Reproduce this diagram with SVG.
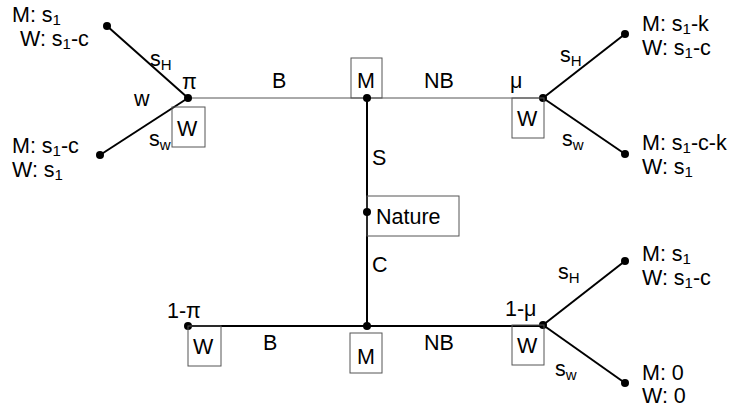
<svg xmlns="http://www.w3.org/2000/svg" width="730" height="408" viewBox="0 0 730 408">
<style>
text{font-family:"Liberation Sans",Arial,sans-serif;font-size:21.5px;fill:#000}
.sub{font-size:15px}
.box{fill:none;stroke:#555;stroke-width:1}
.thick{stroke:#000;stroke-width:2;fill:none}
.thin{stroke:#555;stroke-width:1;fill:none}
.dot{fill:#000}
</style>
<rect width="730" height="408" fill="#fff"/>
<g id="connectors">
<line class="thick" x1="188" y1="98" x2="107" y2="26"/>
<line class="thick" x1="188" y1="98" x2="100" y2="155"/>
<line class="thin" x1="188" y1="98" x2="543" y2="98"/>
<line class="thick" x1="543" y1="98" x2="625" y2="34"/>
<line class="thick" x1="543" y1="98" x2="625" y2="154"/>
<line class="thick" x1="367" y1="98" x2="367" y2="326"/>
<line class="thick" x1="188" y1="326" x2="543" y2="326"/>
<line class="thick" x1="543" y1="325" x2="625" y2="261"/>
<line class="thick" x1="543" y1="325" x2="625" y2="383"/>
<text x="150" y="66">s<tspan class="sub" dy="4">H</tspan></text>
<text x="134" y="106">w</text>
<text x="149" y="146">s<tspan class="sub" dy="4">w</tspan></text>
<text x="272" y="88">B</text>
<text x="424" y="88">NB</text>
<text x="510" y="88">μ</text>
<text x="560" y="62">s<tspan class="sub" dy="4">H</tspan></text>
<text x="562" y="146">s<tspan class="sub" dy="4">w</tspan></text>
<text x="372" y="165">S</text>
<text x="372" y="272">C</text>
<text x="263" y="350">B</text>
<text x="424" y="350">NB</text>
<text x="558" y="279">s<tspan class="sub" dy="4">H</tspan></text>
<text x="555" y="376">s<tspan class="sub" dy="4">w</tspan></text>
</g>
<g id="node-w1">
<circle class="dot" cx="188" cy="98" r="4"/>
<text x="182" y="89">π</text>
<rect class="box" x="172" y="107" width="33" height="40"/>
<text x="177" y="136">W</text>
</g>
<g id="node-m1">
<rect class="box" x="351" y="58" width="31" height="40"/>
<circle class="dot" cx="367" cy="98" r="4"/>
<text x="357" y="88">M</text>
</g>
<g id="node-w2">
<circle class="dot" cx="543" cy="98" r="4"/>
<rect class="box" x="512" y="98" width="32" height="40"/>
<text x="517" y="126">W</text>
</g>
<g id="node-nature">
<rect class="box" x="367" y="196" width="92" height="40"/>
<circle class="dot" cx="367" cy="212" r="4"/>
<text x="376" y="224">Nature</text>
</g>
<g id="node-w3">
<circle class="dot" cx="188" cy="326" r="4"/>
<text x="167" y="318">1-π</text>
<rect class="box" x="188" y="326" width="33" height="40"/>
<text x="193" y="354">W</text>
</g>
<g id="node-m2">
<circle class="dot" cx="367" cy="326" r="4"/>
<rect class="box" x="350" y="333" width="32" height="40"/>
<text x="357" y="364">M</text>
</g>
<g id="node-w4">
<circle class="dot" cx="543" cy="325" r="4"/>
<text x="505" y="316">1-μ</text>
<rect class="box" x="512" y="325" width="32" height="40"/>
<text x="517" y="353">W</text>
</g>
<g id="leaf-1">
<circle class="dot" cx="107" cy="26" r="4"/>
<text x="12" y="22">M: s<tspan class="sub" dy="3">1</tspan></text>
<text x="20" y="46">W: s<tspan class="sub" dy="3">1</tspan><tspan dy="-3">-c</tspan></text>
</g>
<g id="leaf-2">
<circle class="dot" cx="100" cy="155" r="4"/>
<text x="12" y="153">M: s<tspan class="sub" dy="3">1</tspan><tspan dy="-3">-c</tspan></text>
<text x="12" y="177">W: s<tspan class="sub" dy="3">1</tspan></text>
</g>
<g id="leaf-3">
<circle class="dot" cx="625" cy="34" r="4"/>
<text x="642" y="31">M: s<tspan class="sub" dy="3">1</tspan><tspan dy="-3">-k</tspan></text>
<text x="642" y="55">W: s<tspan class="sub" dy="3">1</tspan><tspan dy="-3">-c</tspan></text>
</g>
<g id="leaf-4">
<circle class="dot" cx="625" cy="154" r="4"/>
<text x="642" y="150">M: s<tspan class="sub" dy="3">1</tspan><tspan dy="-3">-c-k</tspan></text>
<text x="642" y="174">W: s<tspan class="sub" dy="3">1</tspan></text>
</g>
<g id="leaf-5">
<circle class="dot" cx="625" cy="261" r="4"/>
<text x="642" y="261">M: s<tspan class="sub" dy="3">1</tspan></text>
<text x="642" y="285">W: s<tspan class="sub" dy="3">1</tspan><tspan dy="-3">-c</tspan></text>
</g>
<g id="leaf-6">
<circle class="dot" cx="625" cy="383" r="4"/>
<text x="642" y="380">M: 0</text>
<text x="642" y="403">W: 0</text>
</g>
</svg>
